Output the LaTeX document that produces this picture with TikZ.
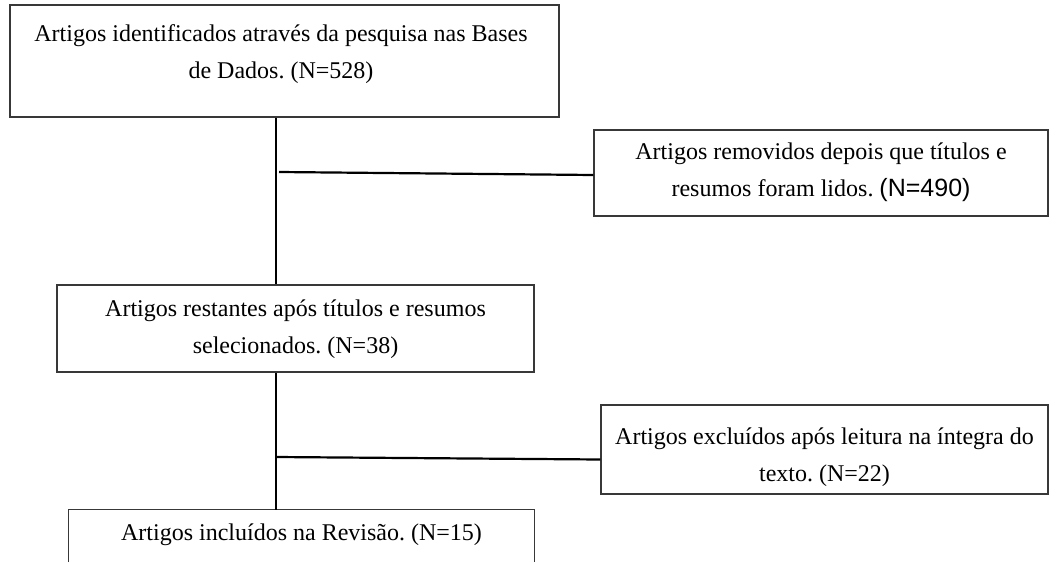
\documentclass[tikz,border=0pt]{standalone}
\usepackage{fontspec}
\setmainfont{Liberation Serif}
\newfontfamily\arialfont{Liberation Sans}
\frenchspacing
\begin{document}
\begin{tikzpicture}[x=1pt,y=-1pt,
  box/.style={draw=black!78, line width=1.3pt, inner sep=0pt},
  edge3/.style={draw=black!78, line width=1.3pt},
  txt/.style={font=\fontsize{24}{37}\selectfont, align=center, inner sep=0pt},
  conn/.style={line width=2.2pt, black}]
\useasboundingbox[fill=white] (0,0) rectangle (1056,562);
% boxes
\node[box, minimum width=549pt, minimum height=112pt] (top) at (284.5,61) {};
\node[txt] (toptxt) at (281,54) {Artigos identificados através da pesquisa nas Bases\\de Dados. (N=528)};
\node[box, minimum width=454pt, minimum height=86pt] (r1) at (821,173) {};
\node[txt] (r1txt) at (821,172) {Artigos removidos depois que títulos e\\resumos foram lidos. {\arialfont\fontsize{25}{37}\selectfont (N=490)}};
\node[box, minimum width=477pt, minimum height=87pt] (mid) at (295.5,328.5) {};
\node[txt] (midtxt) at (295.5,329) {Artigos restantes após títulos e resumos\\selecionados. (N=38)};
\node[box, minimum width=447pt, minimum height=89pt] (r2) at (824.5,449.5) {};
\node[txt] (r2txt) at (824.5,457) {Artigos excluídos após leitura na íntegra do\\texto. (N=22)};
\node[inner sep=0pt, minimum width=465pt, minimum height=52pt] (bot) at (301.5,536) {};
\draw[edge3] (bot.south west) -- (bot.north west) -- (bot.north east) -- (bot.south east);
\node[txt] (bottxt) at (301.5,535) {Artigos incluídos na Revisão. (N=15)};
% connectors
\coordinate (vx) at (276,0);
\draw[conn] (top.south -| vx) -- (mid.north -| vx);
\coordinate (h1) at (279,172);
\draw[conn] (h1) -- ([yshift=-2pt]r1.west);
\draw[conn] (mid.south -| vx) -- (bot.north -| vx);
\coordinate (h2) at (276,457);
\draw[conn] (h2) -- ([yshift=-10pt]r2.west);
\end{tikzpicture}
\end{document}
